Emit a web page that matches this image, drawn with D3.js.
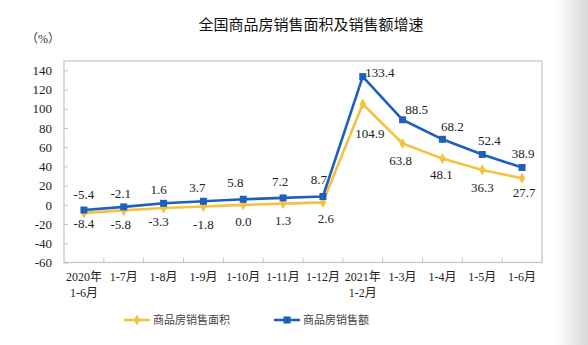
<!DOCTYPE html>
<html><head><meta charset="utf-8">
<script src="https://cdn.jsdelivr.net/npm/d3@7"></script>
<style>
body{margin:0;background:#fff;}
svg{display:block;}
text{font-family:"Liberation Serif","Noto Sans CJK SC",serif;}
</style></head>
<body><svg id="c" width="588" height="345"></svg>
<script>
const categories = [["2020年","1-6月"],["1-7月"],["1-8月"],["1-9月"],["1-10月"],["1-11月"],["1-12月"],["2021年","1-2月"],["1-3月"],["1-4月"],["1-5月"],["1-6月"]];
const areaGrowth = [-8.4,-5.8,-3.3,-1.8,0.0,1.3,2.6,104.9,63.8,48.1,36.3,27.7];
const salesGrowth = [-5.4,-2.1,1.6,3.7,5.8,7.2,8.7,133.4,88.5,68.2,52.4,38.9];
const yTicks = [-60,-40,-20,0,20,40,60,80,100,120,140];
const seriesNames = ["商品房销售面积","商品房销售额"];
const title = "全国商品房销售面积及销售额增速";
const unit = "（%）";

// label offsets (styling)
const salesOff = [[0,-16],[-3,-13],[-5,-14],[-6,-14],[-8,-17],[-3,-16],[-4,-17],[17,-4],[14,-10],[10,-13],[7,-14],[1,-14]];
const areaOff = [[0,11],[-3,14],[-5,13],[0,18],[0,17],[0,17],[3,16],[7,29],[-2,17],[-1,16],[0,18],[2,14]];

const svg = d3.select("#c");
const defs = svg.append("defs");
const g = defs.append("linearGradient").attr("id","sh").attr("x1","0").attr("x2","1");
g.append("stop").attr("offset","0").attr("stop-color","#fff");
g.append("stop").attr("offset","1").attr("stop-color","#d9d9d9");
svg.append("rect").attr("x",556).attr("y",0).attr("width",32).attr("height",345).attr("fill","url(#sh)");

const pLeft=64,pRight=542,pTop=61;
const x = d3.scaleBand().domain(d3.range(categories.length)).range([pLeft,pRight]).padding(0);
const y = d3.scaleLinear().domain([-60,140]).range([262.5,70.3]);
const cx = i => x(i)+x.bandwidth()/2;
const hy = s => s.replace("\u2212","-");

svg.append("text").attr("x",311).attr("y",23).attr("text-anchor","middle").attr("dominant-baseline","central")
  .style("font-family","'Noto Sans CJK SC',sans-serif").style("font-size","15px").attr("fill","#111").text(title);
svg.append("text").attr("x",26).attr("y",39).attr("dominant-baseline","central")
  .style("font-size","12px").attr("fill","#333").text(unit);

// frame
svg.append("rect").attr("x",pLeft).attr("y",pTop).attr("width",pRight-pLeft).attr("height",y(-60)-pTop)
  .attr("fill","none").attr("stroke","#c4c4c4").attr("stroke-width",1.2);

// y axis
const ya = svg.append("g").attr("transform",`translate(${pLeft},0)`)
  .call(d3.axisLeft(y).tickValues(yTicks).tickSize(-4).tickPadding(12).tickFormat(d=>hy(d3.format("d")(d))));
ya.select(".domain").remove();
ya.selectAll("line").attr("stroke","#c4c4c4");
ya.selectAll("text").style("font-size","13px").attr("fill","#222").style("font-family","'Liberation Serif',serif");

// x ticks (between categories)
svg.append("g").selectAll("line").data(d3.range(1,categories.length)).join("line")
  .attr("x1",d=>x(d)).attr("x2",d=>x(d)).attr("y1",y(-60)).attr("y2",y(-60)-5).attr("stroke","#c4c4c4");
const xl = svg.append("g").selectAll("text").data(categories).join("text")
  .attr("x",(d,i)=>cx(i)).attr("y",277).attr("text-anchor","middle").attr("dominant-baseline","central")
  .style("font-size","12px").attr("fill","#222");
xl.each(function(d){
  const t=d3.select(this);
  d.forEach((s,k)=>t.append("tspan").attr("x",t.attr("x")).attr("dy",k?15.5:0).text(s));
});

const yellow="#f4c242", blue="#1f5fbd";
const line = d3.line().x((d,i)=>cx(i)).y(d=>y(d));
svg.append("path").datum(areaGrowth).attr("d",line).attr("fill","none").attr("stroke",yellow).attr("stroke-width",2.6).attr("stroke-linejoin","round");
svg.append("path").datum(salesGrowth).attr("d",line).attr("fill","none").attr("stroke",blue).attr("stroke-width",2.6).attr("stroke-linejoin","round");

const diamond = d3.symbol().type(d3.symbolDiamond).size(36);
svg.append("g").selectAll("path").data(areaGrowth).join("path")
  .attr("d",diamond).attr("transform",(d,i)=>`translate(${cx(i)},${y(d)})`).attr("fill",yellow);
svg.append("g").selectAll("rect").data(salesGrowth).join("rect")
  .attr("x",(d,i)=>cx(i)-3.5).attr("y",d=>y(d)-3.5).attr("width",7).attr("height",7).attr("fill",blue);

const fmt = d => hy(d3.format(".1f")(d));
svg.append("g").selectAll("text").data(salesGrowth).join("text")
  .attr("x",(d,i)=>cx(i)+salesOff[i][0]).attr("y",(d,i)=>y(d)+salesOff[i][1])
  .attr("text-anchor","middle").attr("dominant-baseline","central").style("font-size","13px").attr("fill","#222").text(fmt);
svg.append("g").selectAll("text").data(areaGrowth).join("text")
  .attr("x",(d,i)=>cx(i)+areaOff[i][0]).attr("y",(d,i)=>y(d)+areaOff[i][1])
  .attr("text-anchor","middle").attr("dominant-baseline","central").style("font-size","13px").attr("fill","#222").text(fmt);

// legend
const leg = [{n:seriesNames[0],c:yellow,x:124,m:"d"},{n:seriesNames[1],c:blue,x:274,m:"s"}];
leg.forEach(l=>{
  svg.append("line").attr("x1",l.x).attr("x2",l.x+26).attr("y1",320).attr("y2",320).attr("stroke",l.c).attr("stroke-width",2.6);
  if(l.m==="d") svg.append("path").attr("d",diamond).attr("transform",`translate(${l.x+13},320)`).attr("fill",l.c);
  else svg.append("rect").attr("x",l.x+9.5).attr("y",316.5).attr("width",7).attr("height",7).attr("fill",l.c);
  svg.append("text").attr("x",l.x+29).attr("y",320).attr("dominant-baseline","central")
    .style("font-size","11px").attr("fill","#444").text(l.n);
});
</script></body></html>
